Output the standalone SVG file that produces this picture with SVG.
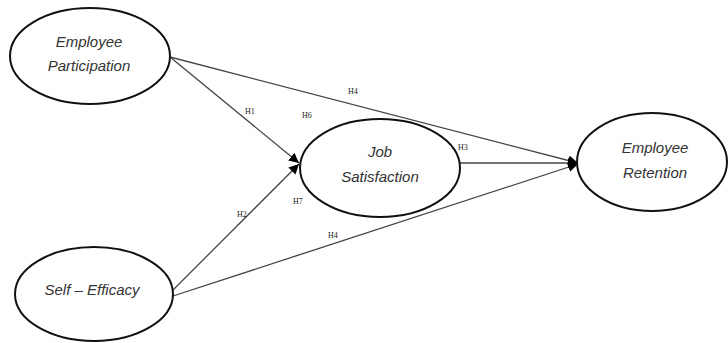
<svg xmlns="http://www.w3.org/2000/svg" width="728" height="343" viewBox="0 0 728 343">
<style>
.node ellipse{fill:#fff;stroke:#111;stroke-width:2}
.node text{font-family:"Liberation Sans",Arial,sans-serif;font-style:italic;font-size:15px;fill:#333;text-anchor:middle}
.conn line{stroke:#444;stroke-width:1.3}
.lbl{font-family:"Liberation Serif","Times New Roman",serif;font-size:8px;fill:#222}
</style>
<defs>
<marker id="arr" viewBox="0 0 10 10" refX="10" refY="5" markerWidth="10" markerHeight="10" markerUnits="userSpaceOnUse" orient="auto">
<path d="M0,0 L10,5 L0,10 z" fill="#000"/>
</marker>
</defs>
<rect width="728" height="343" fill="#fff"/>
<g id="connectors" class="conn">
<line x1="170" y1="57" x2="299" y2="163" marker-end="url(#arr)"/>
<line x1="170" y1="57" x2="578" y2="163" marker-end="url(#arr)"/>
<line x1="173" y1="290" x2="299" y2="164" marker-end="url(#arr)"/>
<line x1="173" y1="296" x2="578" y2="164" marker-end="url(#arr)"/>
<line x1="460" y1="163" x2="578" y2="163" marker-end="url(#arr)"/>
</g>
<g id="labels">
<text class="lbl" x="348" y="94">H4</text>
<text class="lbl" x="245" y="114">H1</text>
<text class="lbl" x="302" y="118">H6</text>
<text class="lbl" x="458" y="150">H3</text>
<text class="lbl" x="293" y="204">H7</text>
<text class="lbl" x="237" y="217">H2</text>
<text class="lbl" x="328" y="238">H4</text>
</g>
<g id="employee-participation" class="node">
<ellipse cx="90" cy="56" rx="80" ry="48"/>
<text x="89" y="47">Employee</text>
<text x="89" y="71">Participation</text>
</g>
<g id="job-satisfaction" class="node">
<ellipse cx="380" cy="168" rx="80" ry="49"/>
<text x="380" y="157">Job</text>
<text x="380" y="182">Satisfaction</text>
</g>
<g id="employee-retention" class="node">
<ellipse cx="652" cy="162" rx="75" ry="49"/>
<text x="655" y="153">Employee</text>
<text x="655" y="178">Retention</text>
</g>
<g id="self-efficacy" class="node">
<ellipse cx="94" cy="294" rx="79" ry="47"/>
<text x="92" y="295">Self – Efficacy</text>
</g>
</svg>
